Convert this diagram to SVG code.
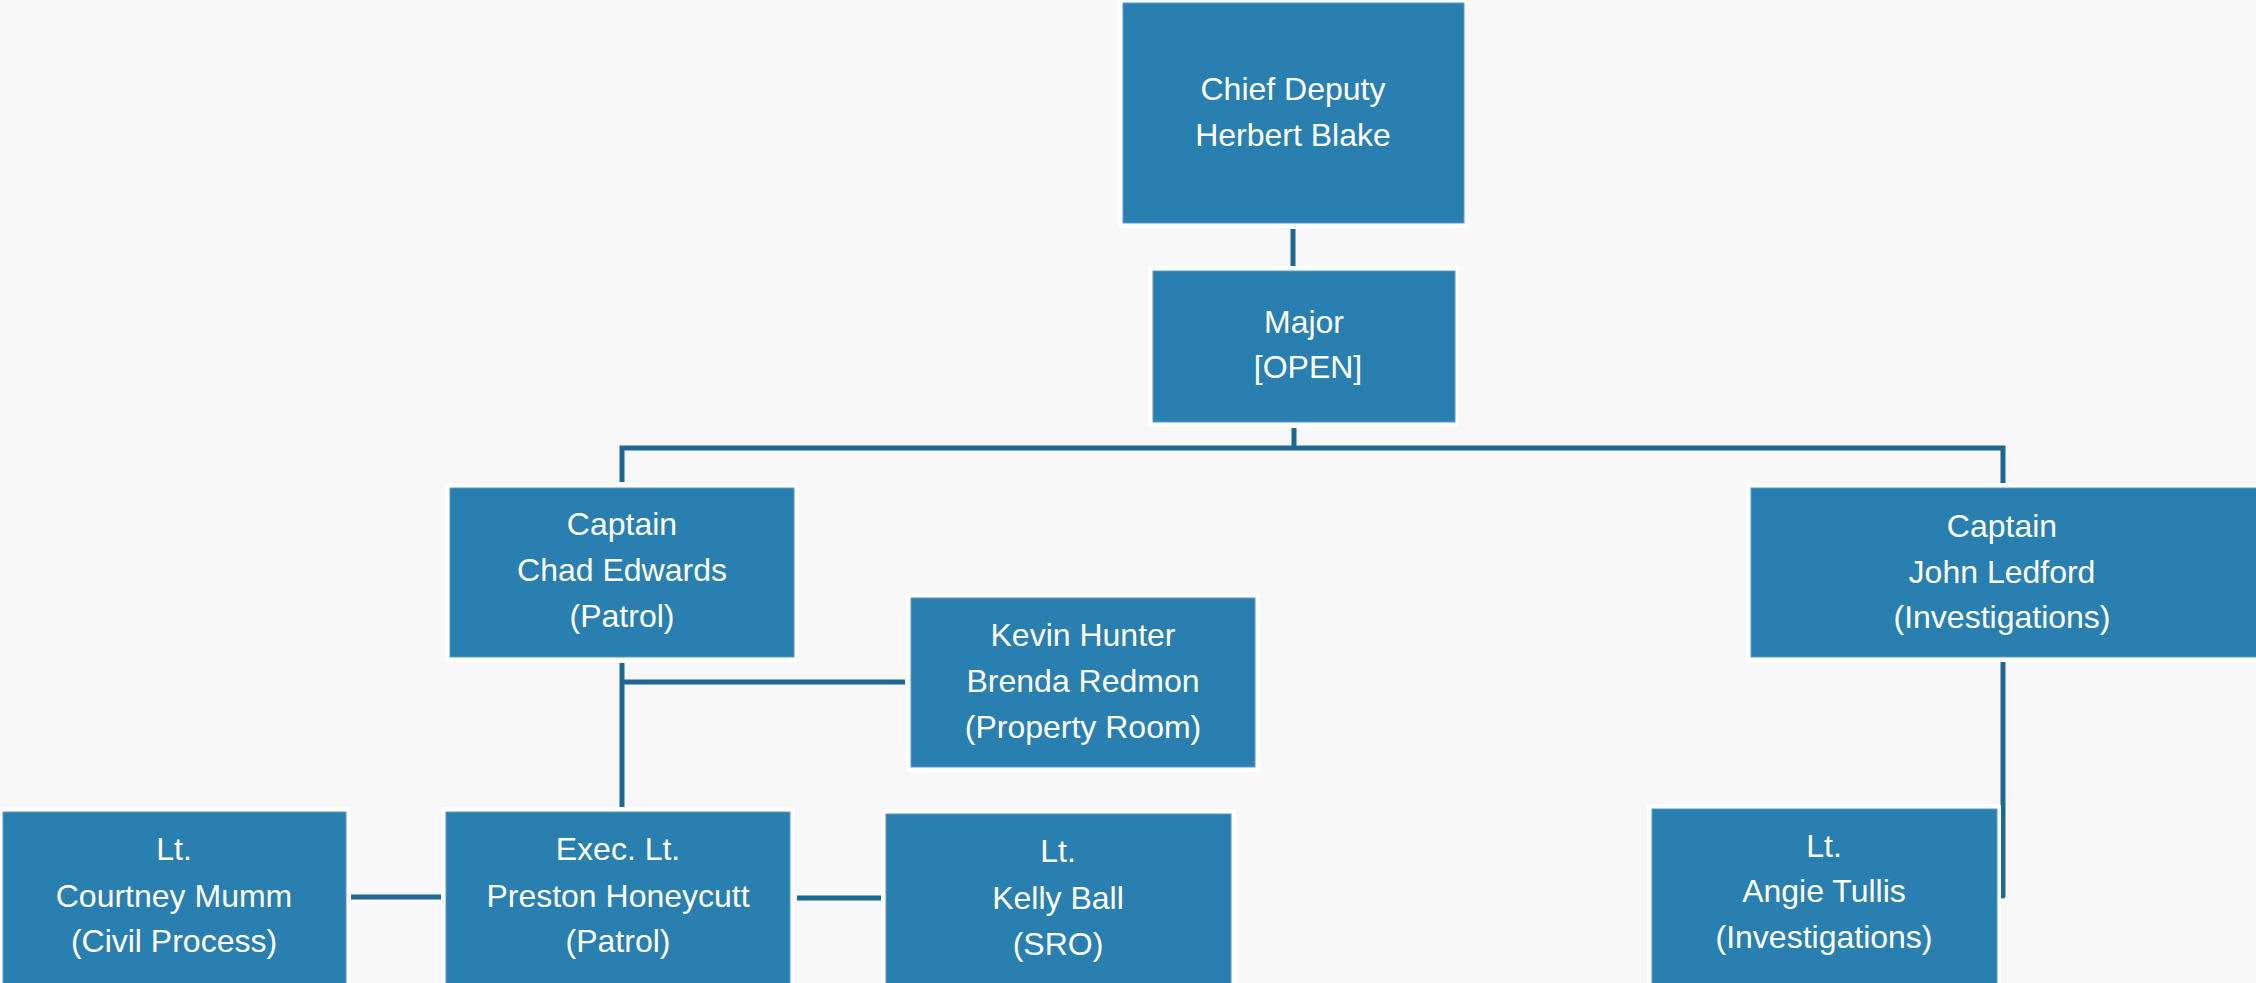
<svg xmlns="http://www.w3.org/2000/svg" width="2256" height="983" viewBox="0 0 2256 983">
<style>
.bg{fill:#f8f8f8}
.out{fill:#ffffff}
.box{fill:#2980b0;stroke:#5a9cc4;stroke-width:1}
.t{font-family:"Liberation Sans",Arial,sans-serif;font-size:32px;fill:#ffffff;text-anchor:middle}
.c{stroke:#206792;stroke-width:5;fill:none}
</style>
<rect class="bg" x="0" y="0" width="2256" height="983"/>
<g id="connectors">
<path class="c" d="M1293 229V266"/>
<path class="c" d="M1294 428V448"/>
<path class="c" d="M622 482V448H2003V483"/>
<path class="c" d="M622 663V807"/>
<path class="c" d="M622 682H905"/>
<path class="c" d="M351 897H441"/>
<path class="c" d="M797 898H881"/>
<path class="c" d="M2003 663V896" stroke-linecap="round"/>
</g>
<g id="chief">
<rect class="out" x="1118" y="-2" width="350" height="230" rx="3"/>
<rect class="box" x="1123" y="3" width="341" height="220"/>
<text class="t" x="1293" y="100">Chief Deputy</text>
<text class="t" x="1293" y="146">Herbert Blake</text>
</g>
<g id="major">
<rect class="out" x="1148" y="266" width="311" height="161" rx="3"/>
<rect class="box" x="1153" y="271" width="302" height="151"/>
<text class="t" x="1304" y="333">Major</text>
<text class="t" x="1308" y="378">[OPEN]</text>
</g>
<g id="capt-edwards">
<rect class="out" x="445" y="483" width="354" height="179" rx="3"/>
<rect class="box" x="450" y="488" width="344" height="169"/>
<text class="t" x="622" y="535">Captain</text>
<text class="t" x="622" y="581">Chad Edwards</text>
<text class="t" x="622" y="627">(Patrol)</text>
</g>
<g id="property-room">
<rect class="out" x="906" y="593" width="354" height="179" rx="3"/>
<rect class="box" x="911" y="598" width="344" height="169"/>
<text class="t" x="1083" y="646">Kevin Hunter</text>
<text class="t" x="1083" y="692">Brenda Redmon</text>
<text class="t" x="1083" y="738">(Property Room)</text>
</g>
<g id="capt-ledford">
<rect class="out" x="1746" y="483" width="520" height="179" rx="3"/>
<rect class="box" x="1751" y="488" width="510" height="169"/>
<text class="t" x="2002" y="537">Captain</text>
<text class="t" x="2002" y="583">John Ledford</text>
<text class="t" x="2002" y="628">(Investigations)</text>
</g>
<g id="lt-mumm">
<rect class="out" x="-2" y="807" width="353" height="185" rx="3"/>
<rect class="box" x="3" y="812" width="343" height="180"/>
<text class="t" x="174" y="860">Lt.</text>
<text class="t" x="174" y="907">Courtney Mumm</text>
<text class="t" x="174" y="952">(Civil Process)</text>
</g>
<g id="exec-lt-honeycutt">
<rect class="out" x="441" y="807" width="354" height="185" rx="3"/>
<rect class="box" x="446" y="812" width="344" height="180"/>
<text class="t" x="618" y="860">Exec. Lt.</text>
<text class="t" x="618" y="907">Preston Honeycutt</text>
<text class="t" x="618" y="952">(Patrol)</text>
</g>
<g id="lt-ball">
<rect class="out" x="881" y="809" width="355" height="185" rx="3"/>
<rect class="box" x="886" y="814" width="345" height="180"/>
<text class="t" x="1058" y="862">Lt.</text>
<text class="t" x="1058" y="909">Kelly Ball</text>
<text class="t" x="1058" y="955">(SRO)</text>
</g>
<g id="lt-tullis">
<rect class="out" x="1647" y="804" width="354" height="190" rx="3"/>
<rect class="box" x="1652" y="809" width="345" height="185"/>
<text class="t" x="1824" y="857">Lt.</text>
<text class="t" x="1824" y="902">Angie Tullis</text>
<text class="t" x="1824" y="948">(Investigations)</text>
</g>
</svg>
